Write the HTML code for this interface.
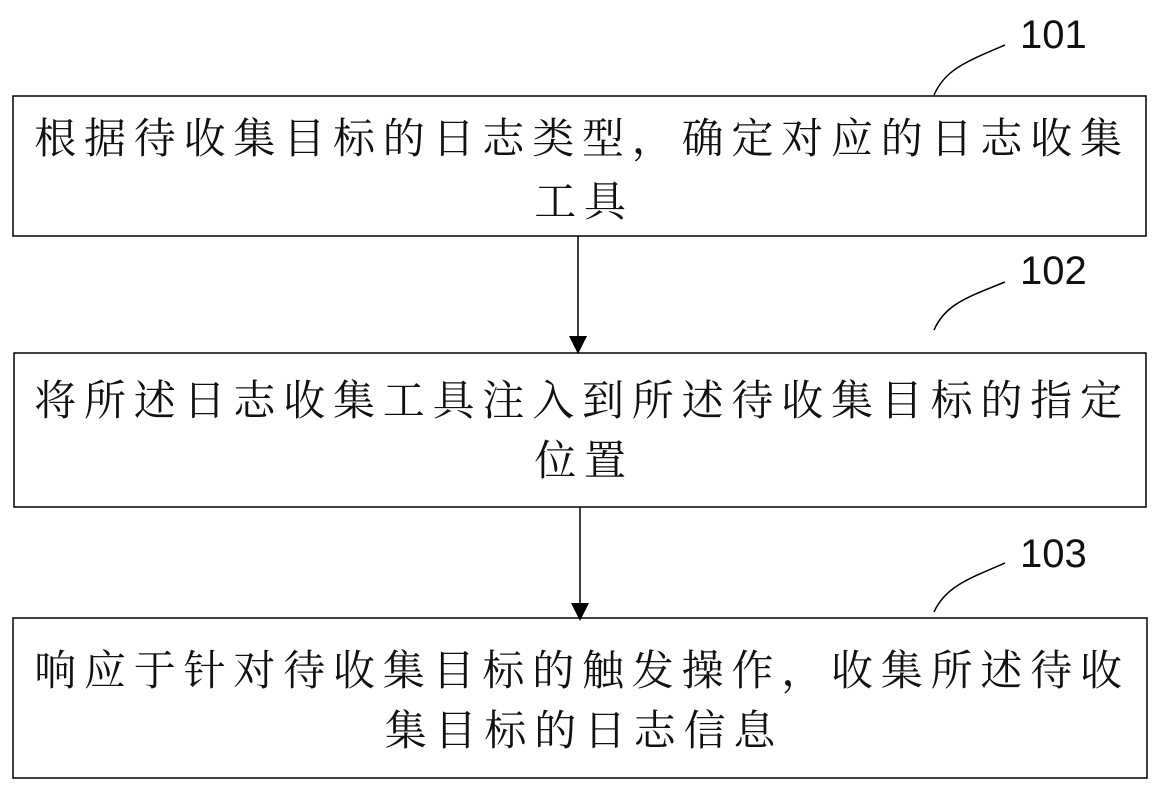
<!DOCTYPE html>
<html><head><meta charset="utf-8"><style>
html,body{margin:0;padding:0;background:#fff;}
svg{display:block;}
.t{font-family:"Liberation Serif","Noto Serif CJK SC","Noto Sans CJK SC",serif;font-size:42px;fill:#111;letter-spacing:7.8px;}
.n{font-family:"Liberation Sans",sans-serif;font-size:40px;fill:#111;}
</style></head><body>
<svg width="1162" height="794" viewBox="0 0 1162 794" xmlns="http://www.w3.org/2000/svg">
<g fill="none" stroke="#000" stroke-width="1.5">
<rect x="13" y="96" width="1133" height="140"/>
<rect x="14" y="353" width="1132" height="154"/>
<rect x="13" y="618" width="1134" height="160"/>
<line x1="578" y1="236" x2="578" y2="337"/>
<line x1="580" y1="507" x2="580" y2="604"/>
<path d="M934 95 C 945 70, 965 62, 1005 45"/>
<path d="M934 330 C 945 305, 965 298, 1005 282"/>
<path d="M934 612 C 945 588, 965 580, 1005 563"/>
</g>
<polygon points="569,336 587,336 578,354" fill="#000"/>
<polygon points="571,603 589,603 580,621" fill="#000"/>
<text class="n" x="1020" y="48">101</text>
<text class="n" x="1020" y="284">102</text>
<text class="n" x="1020" y="567">103</text>
<text class="t" x="582" y="153" text-anchor="middle">根据待收集目标的日志类型，确定对应的日志收集</text>
<text class="t" x="584" y="216" text-anchor="middle">工具</text>
<text class="t" x="582" y="415" text-anchor="middle">将所述日志收集工具注入到所述待收集目标的指定</text>
<text class="t" x="584" y="475" text-anchor="middle">位置</text>
<text class="t" x="582" y="685" text-anchor="middle">响应于针对待收集目标的触发操作，收集所述待收</text>
<text class="t" x="584" y="745" text-anchor="middle">集目标的日志信息</text>
</svg>
</body></html>
